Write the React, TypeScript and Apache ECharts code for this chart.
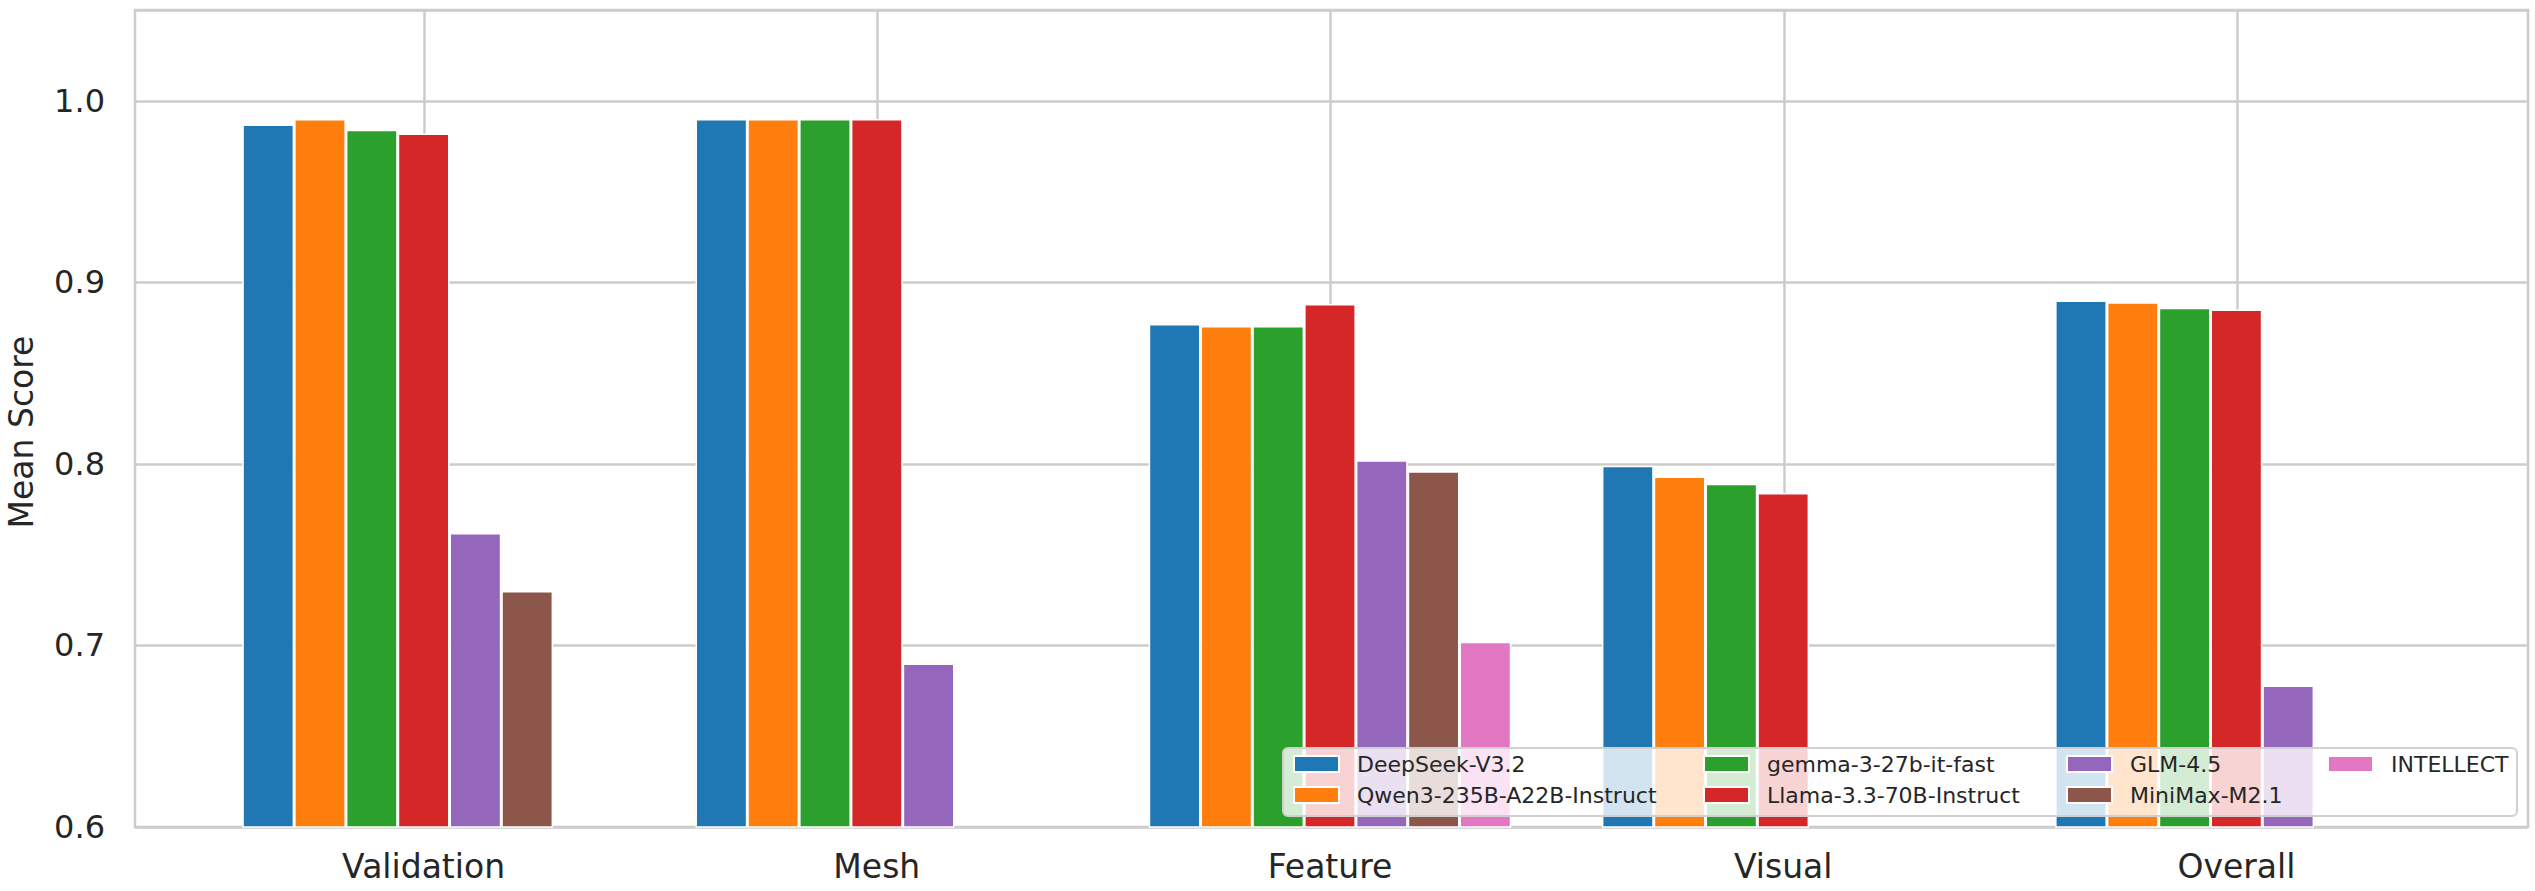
import React, { useEffect, useRef } from "react";
import * as echarts from "echarts";

const categories = ["Validation", "Mesh", "Feature", "Visual", "Overall"];
const modelNames = [
  "DeepSeek-V3.2",
  "Qwen3-235B-A22B-Instruct",
  "gemma-3-27b-it-fast",
  "Llama-3.3-70B-Instruct",
  "GLM-4.5",
  "MiniMax-M2.1",
  "INTELLECT",
];
const deepseek = [0.987, 0.990, 0.877, 0.799, 0.890];
const qwen = [0.990, 0.990, 0.876, 0.793, 0.889];
const gemma = [0.984, 0.990, 0.876, 0.789, 0.886];
const llama = [0.982, 0.990, 0.888, 0.784, 0.885];
const glm = [0.762, 0.690, 0.802, null, 0.678];
const minimax = [0.730, null, 0.796, null, null];
const intellect = [null, null, 0.702, null, null];
const seriesValues = [deepseek, qwen, gemma, llama, glm, minimax, intellect];
const colors = ["#1f77b4", "#ff7f0e", "#2ca02c", "#d62728", "#9467bd", "#8c564b", "#e377c2"];
const yTicks = { min: 0.6, max: 1.05, step: 0.1 };
const legendColumns = [
  [modelNames[0], modelNames[1]],
  [modelNames[2], modelNames[3]],
  [modelNames[4], modelNames[5]],
  [modelNames[6]],
];

const FONT = "DejaVu Sans";
const TEXT = "#262626";
const GRID = "#cccccc";

export default function App() {
  const ref = useRef<HTMLDivElement>(null);
  useEffect(() => {
    if (!ref.current) return;
    const chart = echarts.init(ref.current, null, { renderer: "svg" });
    const legendLefts = [1293, 1703, 2066, 2327];
    const option: any = {
      animation: false,
      backgroundColor: "#ffffff",
      textStyle: { fontFamily: FONT, color: TEXT },
      grid: [
        { left: 135, right: 7, top: 10, bottom: 64, show: true, borderColor: GRID, borderWidth: 2.5, backgroundColor: "transparent" },
        { left: 197, right: 72, top: 10, bottom: 64 },
        { left: 424, right: 298, top: 10, bottom: 64 },
      ],
      xAxis: [
        { type: "value", gridIndex: 0, min: 0, max: 1, show: false },
        {
          type: "category",
          gridIndex: 1,
          data: categories,
          axisLine: { show: false },
          axisTick: { show: false },
          splitLine: { show: false },
          axisLabel: { fontSize: 33, color: TEXT, fontFamily: FONT, margin: 23 },
        },
        {
          type: "category",
          gridIndex: 2,
          data: categories,
          boundaryGap: false,
          axisLine: { show: false },
          axisTick: { show: false },
          axisLabel: { show: false },
          splitLine: { show: true, interval: 0, lineStyle: { color: GRID, width: 2.5 } },
        },
      ],
      yAxis: [
        {
          type: "value",
          gridIndex: 0,
          min: yTicks.min,
          max: yTicks.max,
          interval: yTicks.step,
          axisLine: { show: false },
          axisTick: { show: false },
          axisLabel: {
            fontSize: 32,
            color: TEXT,
            fontFamily: FONT,
            margin: 30,
            showMaxLabel: false,
            formatter: (v: number) => v.toFixed(1),
          },
          splitLine: { show: true, lineStyle: { color: GRID, width: 2.5 } },
        },
        { type: "value", gridIndex: 1, min: yTicks.min, max: yTicks.max, show: false },
        { type: "value", gridIndex: 2, min: 0, max: 1, show: false },
      ],
      legend: legendColumns.map((col, i) => ({
        data: col,
        orient: "vertical",
        left: legendLefts[i],
        top: 753,
        padding: 0,
        itemGap: 9,
        itemWidth: 45,
        itemHeight: 16,
        icon: "rect",
        selectedMode: false,
        z: 20,
        textStyle: { fontSize: 22, color: TEXT, fontFamily: FONT, lineHeight: 22, padding: [0, 0, 0, 13] },
      })),
      graphic: [
        {
          type: "rect",
          z: 10,
          shape: { x: 1283, y: 748, width: 1234, height: 68, r: 5 },
          style: { fill: "rgba(255,255,255,0.8)", stroke: "#d0d0d0", lineWidth: 2 },
        },
        {
          type: "text",
          x: 21,
          y: 432,
          rotation: Math.PI / 2,
          z: 10,
          style: {
            text: "Mean Score",
            font: '33px "DejaVu Sans"',
            fill: TEXT,
            align: "center",
            verticalAlign: "middle",
          },
        },
      ],
      series: modelNames.map((name, i) => ({
        name,
        type: "bar",
        xAxisIndex: 1,
        yAxisIndex: 1,
        data: seriesValues[i],
        barGap: "0%",
        barCategoryGap: "20%",
        z: 2,
        itemStyle: { color: colors[i], borderColor: "#ffffff", borderWidth: 1.5 },
      })),
    };
    chart.setOption(option);
    return () => chart.dispose();
  }, []);
  return (
    <div
      ref={ref}
      style={{ position: "absolute", left: 0, top: 0, width: 2535, height: 891 }}
    />
  );
}
